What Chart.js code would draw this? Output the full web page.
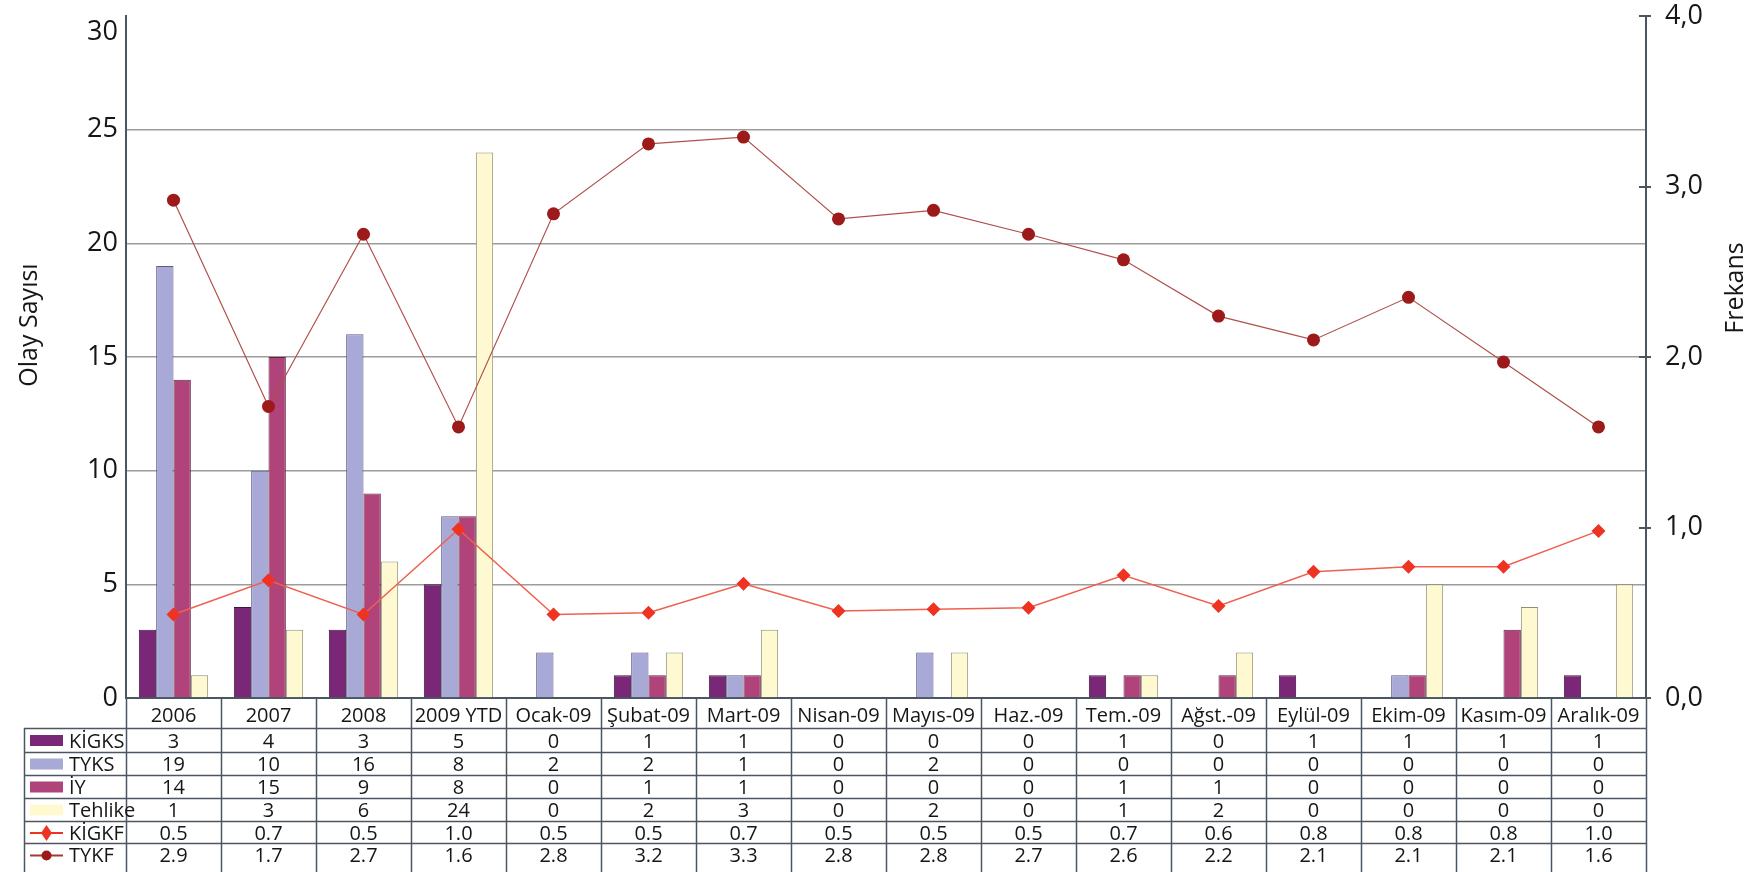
<!DOCTYPE html>
<html>
<head>
<meta charset="utf-8">
<script src="https://cdn.jsdelivr.net/npm/chart.js@4"></script>
<style>
html,body{margin:0;padding:0;background:#fff;}
#wrap{width:1757px;height:872px;position:relative;}
</style>
</head>
<body>
<div id="wrap"><canvas id="c"></canvas></div>
<script>
// ---- data ----
const categories = ["2006","2007","2008","2009 YTD","Ocak-09","Şubat-09","Mart-09","Nisan-09","Mayıs-09","Haz.-09","Tem.-09","Ağst.-09","Eylül-09","Ekim-09","Kasım-09","Aralık-09"];

// bar heights as drawn in the chart
const kigksBars   = [3,4,3,5,0,1,1,0,0,0,1,0,1,0,0,1];
const tyksBars    = [19,10,16,8,2,2,1,0,2,0,0,0,0,1,0,0];
const iyBars      = [14,15,9,8,0,1,1,0,0,0,1,1,0,1,3,0];
const tehlikeBars = [1,3,6,24,0,2,3,0,2,0,1,2,0,5,4,5];

// frequency lines as drawn
const kigkfLine = [0.49,0.69,0.49,0.99,0.49,0.50,0.67,0.51,0.52,0.53,0.72,0.54,0.74,0.77,0.77,0.98];
const tykfLine  = [2.92,1.71,2.72,1.59,2.84,3.25,3.29,2.81,2.86,2.72,2.57,2.24,2.10,2.35,1.97,1.59];

// data table values as printed
const tblKIGKS   = ["3","4","3","5","0","1","1","0","0","0","1","0","1","1","1","1"];
const tblTYKS    = ["19","10","16","8","2","2","1","0","2","0","0","0","0","0","0","0"];
const tblIY      = ["14","15","9","8","0","1","1","0","0","0","1","1","0","0","0","0"];
const tblTehlike = ["1","3","6","24","0","2","3","0","2","0","1","2","0","0","0","0"];
const tblKIGKF   = ["0.5","0.7","0.5","1.0","0.5","0.5","0.7","0.5","0.5","0.5","0.7","0.6","0.8","0.8","0.8","1.0"];
const tblTYKF    = ["2.9","1.7","2.7","1.6","2.8","3.2","3.3","2.8","2.8","2.7","2.6","2.2","2.1","2.1","2.1","1.6"];

const seriesNames = ["KİGKS","TYKS","İY","Tehlike","KİGKF","TYKF"];
const leftTicks = [0,5,10,15,20,25,30];
const rightTicks = [0,1,2,3,4];

// ---- styles ----
const FONT = "'Open Sans', 'Noto Sans', sans-serif";
const C_KIGKS = '#7a2778', C_TYKS = '#a8a9d6', C_IY = '#b0437a', C_TEH = '#fff9d2';
const C_KIGKF = '#ee3323', C_TYKF = '#9c1a1a';
const AXIS = '#4b5663';
const TXT = '#161616';
Chart.defaults.font.family = FONT;

const z = a => a.map(v => v === 0 ? null : v);
const noPad = s => { s.paddingTop = 0; s.paddingBottom = 0; s.paddingLeft = 0; s.paddingRight = 0; };

const extras = {
  id: 'extras',
  afterDraw(chart) {
    const ctx = chart.ctx;
    const a = chart.chartArea;
    const n = categories.length;
    const step = (a.right - a.left) / n;
    const y1 = chart.scales.y1;
    ctx.save();
    // right axis tick marks crossing the axis
    ctx.strokeStyle = AXIS; ctx.lineWidth = 2;
    rightTicks.forEach(v => {
      const py = Math.round(y1.getPixelForValue(v));
      ctx.beginPath(); ctx.moveTo(a.right - 7, py); ctx.lineTo(a.right + 5, py); ctx.stroke();
    });
    // top label of left axis (sits a little below the top)
    ctx.fillStyle = TXT;
    ctx.font = "27px " + FONT;
    ctx.textAlign = 'right'; ctx.textBaseline = 'middle';
    ctx.fillText(String(leftTicks[leftTicks.length - 1]), a.left - 8, 32);
    // axis titles
    ctx.font = "25px " + FONT;
    ctx.textAlign = 'center'; ctx.textBaseline = 'middle';
    ctx.save(); ctx.translate(30, 325); ctx.rotate(-Math.PI/2); ctx.fillText('Olay Sayısı', 0, 0); ctx.restore();
    ctx.save(); ctx.translate(1736, 288); ctx.rotate(-Math.PI/2); ctx.fillText('Frekans', 0, 0); ctx.restore();

    // data table
    const top = a.bottom;
    const rows = [728, 752, 775, 798, 821, 843, 866];
    const bottom = 872;
    const labL = 24;
    ctx.strokeStyle = AXIS; ctx.lineWidth = 1.5;
    for (let i = 0; i <= n; i++) {
      const x = Math.round(a.left + step * i) + 0.5;
      ctx.beginPath(); ctx.moveTo(x, top); ctx.lineTo(x, bottom); ctx.stroke();
    }
    ctx.beginPath(); ctx.moveTo(labL + 0.5, rows[0]); ctx.lineTo(labL + 0.5, bottom); ctx.stroke();
    for (let r = 0; r < rows.length - 1; r++) {
      ctx.beginPath(); ctx.moveTo(labL, rows[r] + 0.5); ctx.lineTo(a.right, rows[r] + 0.5); ctx.stroke();
    }
    ctx.fillStyle = TXT;
    ctx.font = "20px " + FONT;
    ctx.textAlign = 'center'; ctx.textBaseline = 'middle';
    categories.forEach((c, i) => ctx.fillText(c, a.left + step * (i + 0.5), (top + rows[0]) / 2 + 3));
    const tbl = [tblKIGKS, tblTYKS, tblIY, tblTehlike, tblKIGKF, tblTYKF];
    tbl.forEach((row, r) => {
      const cy = (rows[r] + rows[r + 1]) / 2 + 2;
      row.forEach((v, i) => ctx.fillText(v, a.left + step * (i + 0.5), cy));
    });
    // legend keys in label column
    ctx.textAlign = 'left';
    const swL = 30, swR = 63;
    const sw = [C_KIGKS, C_TYKS, C_IY, C_TEH];
    seriesNames.forEach((nm, r) => {
      const cy = (rows[r] + rows[r + 1]) / 2;
      if (r < 4) {
        ctx.fillStyle = sw[r];
        ctx.fillRect(swL, cy - 5, swR - swL, 11);
      } else if (r === 4) {
        ctx.strokeStyle = C_KIGKF; ctx.lineWidth = 2;
        ctx.beginPath(); ctx.moveTo(swL, cy + 1); ctx.lineTo(swR, cy + 1); ctx.stroke();
        ctx.fillStyle = C_KIGKF;
        const mx = (swL + swR) / 2;
        ctx.beginPath(); ctx.moveTo(mx, cy - 7); ctx.lineTo(mx + 5.5, cy + 1); ctx.lineTo(mx, cy + 9); ctx.lineTo(mx - 5.5, cy + 1); ctx.closePath(); ctx.fill();
      } else {
        ctx.strokeStyle = '#a33a3a'; ctx.lineWidth = 2;
        ctx.beginPath(); ctx.moveTo(swL, cy + 1); ctx.lineTo(swR, cy + 1); ctx.stroke();
        ctx.fillStyle = C_TYKF;
        ctx.beginPath(); ctx.arc((swL + swR) / 2, cy + 1, 5, 0, Math.PI * 2); ctx.fill();
      }
      ctx.fillStyle = TXT;
      ctx.fillText(nm, 69, cy + 2);
    });
    ctx.restore();
  }
};

const barCommon = { type: 'bar', yAxisID: 'y', categoryPercentage: 0.73, barPercentage: 1.0, borderWidth: 1, order: 2 };

new Chart(document.getElementById('c'), {
  type: 'bar',
  data: {
    labels: categories,
    datasets: [
      Object.assign({ label: 'KİGKS', data: z(kigksBars), backgroundColor: C_KIGKS, borderColor: '#3e1540' }, barCommon),
      Object.assign({ label: 'TYKS', data: z(tyksBars), backgroundColor: C_TYKS, borderColor: '#5a5a86' }, barCommon),
      Object.assign({ label: 'İY', data: z(iyBars), backgroundColor: C_IY, borderColor: '#5e2444' }, barCommon),
      Object.assign({ label: 'Tehlike', data: z(tehlikeBars), backgroundColor: C_TEH, borderColor: '#8e8e7a' }, barCommon),
      { type: 'line', label: 'KİGKF', data: kigkfLine, yAxisID: 'y1', borderColor: '#f0604e', borderWidth: 1.5,
        pointStyle: 'rectRot', pointRadius: 7, pointBackgroundColor: C_KIGKF, pointBorderColor: C_KIGKF, pointBorderWidth: 0,
        tension: 0, fill: false, order: 0 },
      { type: 'line', label: 'TYKF', data: tykfLine, yAxisID: 'y1', borderColor: '#b0504c', borderWidth: 1.2,
        pointStyle: 'circle', pointRadius: 6.5, pointBackgroundColor: C_TYKF, pointBorderColor: C_TYKF, pointBorderWidth: 0,
        tension: 0, fill: false, order: 0 }
    ]
  },
  options: {
    responsive: true,
    maintainAspectRatio: false,
    animation: false,
    devicePixelRatio: 1,
    layout: { padding: { top: 16, left: 0, right: 0, bottom: 0 } },
    plugins: { legend: { display: false }, tooltip: { enabled: false } },
    scales: {
      x: {
        offset: true,
        grid: { display: false },
        border: { display: true, color: AXIS, width: 2 },
        ticks: { display: false },
        afterFit(s) { s.height = 174; noPad(s); }
      },
      y: {
        position: 'left', min: 0, max: 30,
        afterBuildTicks(s) { s.ticks = leftTicks.map(v => ({ value: v })); },
        ticks: { font: { size: 27 }, color: TXT, padding: 8, callback: v => v === 30 ? '' : String(v) },
        grid: { color: c => (c.tick && (c.tick.value === 0 || c.tick.value === 30)) ? 'rgba(0,0,0,0)' : '#9c9c9c', lineWidth: 1.5, drawTicks: false },
        border: { display: true, color: AXIS, width: 2 },
        afterFit(s) { s.width = 126; noPad(s); }
      },
      y1: {
        position: 'right', min: 0, max: 4,
        afterBuildTicks(s) { s.ticks = rightTicks.map(v => ({ value: v })); },
        ticks: { font: { size: 27 }, color: TXT, padding: 11, callback: v => Number(v).toFixed(1).replace('.', ',') },
        grid: { display: false },
        border: { display: true, color: AXIS, width: 2 },
        afterFit(s) { s.width = 111; noPad(s); }
      }
    }
  },
  plugins: [extras]
});
</script>
</body>
</html>
